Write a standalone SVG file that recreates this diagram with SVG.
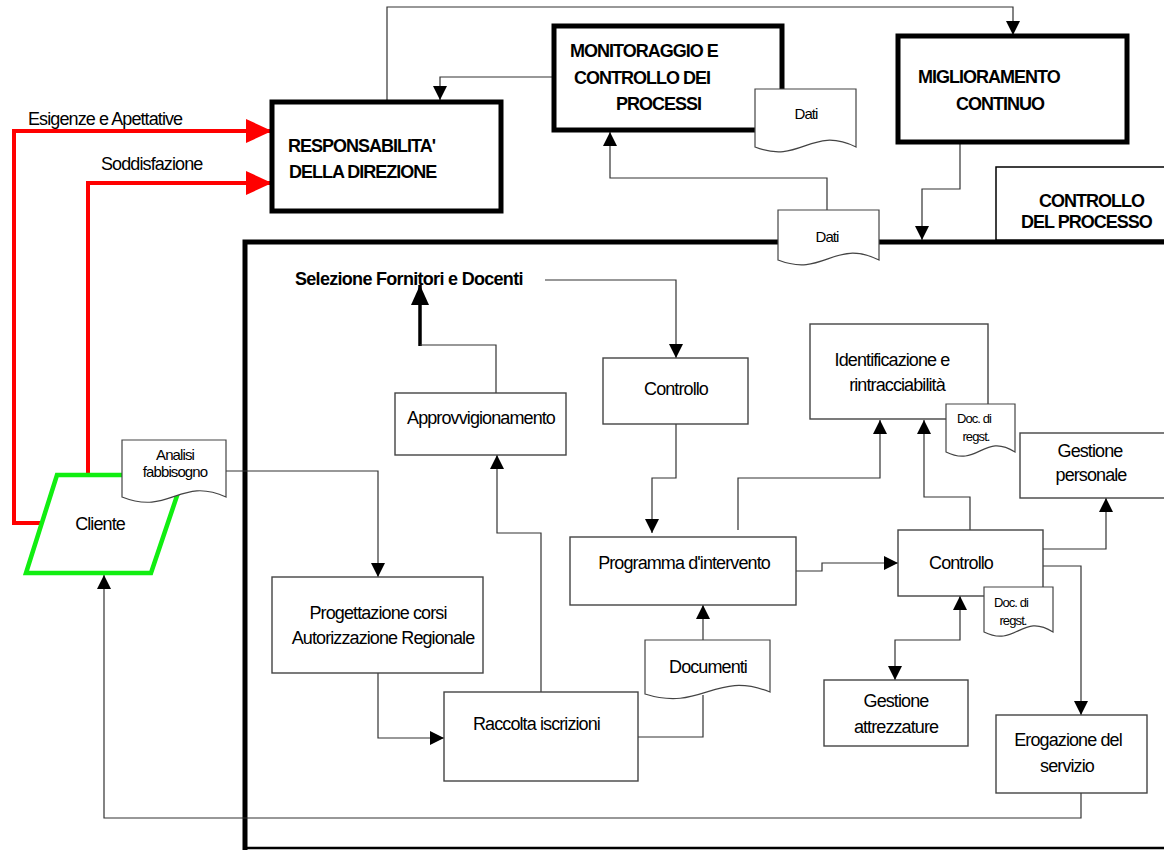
<svg xmlns="http://www.w3.org/2000/svg" width="1164" height="850" viewBox="0 0 1164 850">
<style>
text{font-family:"Liberation Sans",Arial,sans-serif;fill:#000}
.t{font-size:18px;letter-spacing:-0.9px}
.b{font-size:18px;font-weight:bold;letter-spacing:-1px}
.s{font-size:15px;letter-spacing:-0.9px}
.xs{font-size:13px;letter-spacing:-0.9px}
.m{text-anchor:middle}
.box{fill:#fff;stroke:#444;stroke-width:1.4}
.big{fill:#fff;stroke:#000;stroke-width:5}
.doc{fill:#fff;stroke:#444;stroke-width:1.2}
.c{fill:none;stroke:#333;stroke-width:1.2}
.red{fill:none;stroke:#ff0000;stroke-width:4}
</style>
<defs>
<marker id="a" markerUnits="userSpaceOnUse" markerWidth="14" markerHeight="14" viewBox="0 0 14 14" refX="14" refY="7" orient="auto-start-reverse"><path d="M0,0 L14,7 L0,14 Z" fill="#000"/></marker>
<marker id="ar" markerUnits="userSpaceOnUse" markerWidth="26" markerHeight="24" viewBox="0 0 26 24" refX="26" refY="12" orient="auto"><path d="M0,0 L26,12 L0,24 Z" fill="#ff0000"/></marker>
<marker id="ab" markerUnits="userSpaceOnUse" markerWidth="20" markerHeight="18" viewBox="0 0 20 18" refX="20" refY="9" orient="auto"><path d="M0,0 L20,9 L0,18 Z" fill="#000"/></marker>
</defs>

<g id="frame">
<path d="M245,850 V242 H1164" fill="none" stroke="#000" stroke-width="5"/>
<path d="M245,848 H1164" fill="none" stroke="#000" stroke-width="2.5"/>
</g>

<g id="connectors">
<path class="c" d="M387,100 V7 H1013 V35" marker-end="url(#a)"/>
<path class="c" d="M553,77 H440 V100" marker-end="url(#a)"/>
<path class="c" d="M960,142 V189 H922 V240" marker-end="url(#a)"/>
<path class="c" d="M827,210 V178 H610 V132" marker-end="url(#a)"/>
<path class="red" d="M40,523 H14 V131 H272" marker-end="url(#ar)"/>
<path class="red" d="M88,475 V183 H272" marker-end="url(#ar)"/>
<path class="c" d="M226,471 H378 V577" marker-end="url(#a)"/>
<path fill="none" stroke="#000" stroke-width="3.5" d="M420,346 V285" marker-end="url(#ab)"/>
<path class="c" d="M496,393 V345 H420"/>
<path class="c" d="M545,280 H676 V358" marker-end="url(#a)"/>
<path class="c" d="M541,692 V533 H497 V455" marker-end="url(#a)"/>
<path class="c" d="M378,673 V738 H444" marker-end="url(#a)"/>
<path class="c" d="M638,737 H703 V695"/>
<path class="c" d="M703,640 V605" marker-end="url(#a)"/>
<path class="c" d="M676,424 V478 H652 V533" marker-end="url(#a)"/>
<path class="c" d="M738,530 V478 H880 V420" marker-end="url(#a)"/>
<path class="c" d="M796,571 H822 V563 H898" marker-end="url(#a)"/>
<path class="c" d="M970,530 V497 H924 V420" marker-end="url(#a)"/>
<path class="c" d="M1043,549 H1106 V498" marker-end="url(#a)"/>
<path class="c" d="M1043,566 H1081 V715" marker-end="url(#a)"/>
<path class="c" d="M1081,793 V818 H104 V575" marker-end="url(#a)"/>
<path class="c" d="M895,680 V640 H960 V596" marker-start="url(#a)" marker-end="url(#a)"/>
</g>

<g id="responsabilita">
<rect class="big" x="272" y="102" width="229" height="109"/>
<text class="b" x="288" y="152">RESPONSABILITA'</text>
<text class="b" x="289" y="178">DELLA DIREZIONE</text>
</g>

<g id="monitoraggio">
<rect class="big" x="554" y="26" width="228" height="104"/>
<text class="b" x="570" y="57">MONITORAGGIO E</text>
<text class="b" x="574" y="84">CONTROLLO DEI</text>
<text class="b" x="616" y="110">PROCESSI</text>
</g>

<g id="dati-top">
<path class="doc" d="M755,89 H856 V147 C811,125 801,165 755,147 Z"/>
<text class="s m" x="806" y="119">Dati</text>
</g>

<g id="miglioramento">
<rect class="big" x="898" y="36" width="229" height="106"/>
<text class="b" x="918" y="83">MIGLIORAMENTO</text>
<text class="b" x="956" y="110">CONTINUO</text>
</g>

<g id="controllo-processo">
<rect x="996" y="167" width="172" height="73" fill="#fff" stroke="#000" stroke-width="1.5"/>
<text class="b" x="1039" y="207">CONTROLLO</text>
<text class="b" x="1021" y="228">DEL PROCESSO</text>
</g>

<g id="dati-lower">
<path class="doc" d="M778,210 H879 V260 C834,238 824,278 778,260 Z"/>
<text class="s m" x="827" y="242">Dati</text>
</g>

<g id="labels">
<text class="t" x="28" y="125">Esigenze e Apettative</text>
<text class="t" x="101" y="170">Soddisfazione</text>
</g>

<g id="cliente">
<polygon points="57,475 184,475 151,573 26,573" fill="#fff" stroke="#11ee11" stroke-width="4.5"/>
<text class="t m" x="100" y="530">Cliente</text>
</g>

<g id="analisi">
<path class="doc" d="M122,440 H226 V497 C180,476 170,516 122,497 Z"/>
<text class="s m" x="175" y="460">Analisi</text>
<text class="s m" x="175" y="477">fabbisogno</text>
</g>

<g id="selezione">
<text class="b" x="295" y="285" style="letter-spacing:-0.7px">Selezione Fornitori e Docenti</text>
</g>

<g id="approvvigionamento">
<rect class="box" x="395" y="393" width="171" height="62"/>
<text class="t m" x="481" y="424">Approvvigionamento</text>
</g>

<g id="controllo1">
<rect class="box" x="603" y="358" width="145" height="66"/>
<text class="t m" x="676" y="395">Controllo</text>
</g>

<g id="identificazione">
<rect class="box" x="810" y="324" width="178" height="95"/>
<text class="t m" x="892" y="366">Identificazione e</text>
<text class="t m" x="897" y="391">rintracciabilità</text>
</g>

<g id="doc-regst1">
<path class="doc" d="M946,404 H1015 V452 C984,432 978,468 946,452 Z"/>
<text class="xs m" x="974" y="423">Doc. di</text>
<text class="xs m" x="976" y="441">regst.</text>
</g>

<g id="gestione-personale">
<rect class="box" x="1020" y="433" width="150" height="65"/>
<text class="t m" x="1090" y="457">Gestione</text>
<text class="t m" x="1091" y="481">personale</text>
</g>

<g id="programma">
<rect class="box" x="570" y="537" width="226" height="68"/>
<text class="t m" x="684" y="569">Programma d'intervento</text>
</g>

<g id="controllo2">
<rect class="box" x="898" y="530" width="145" height="66"/>
<text class="t m" x="961" y="569">Controllo</text>
</g>

<g id="doc-regst2">
<path class="doc" d="M984,587 H1053 V632 C1022,612 1016,648 984,632 Z"/>
<text class="xs m" x="1011" y="607">Doc. di</text>
<text class="xs m" x="1013" y="625">regst.</text>
</g>

<g id="progettazione">
<rect class="box" x="272" y="577" width="211" height="96"/>
<text class="t m" x="378" y="619">Progettazione corsi</text>
<text class="t m" x="383" y="644">Autorizzazione Regionale</text>
</g>

<g id="raccolta">
<rect class="box" x="444" y="692" width="194" height="89"/>
<text class="t" x="473" y="730">Raccolta iscrizioni</text>
</g>

<g id="documenti">
<path class="doc" d="M645,640 H770 V692 C715,670 702,712 645,694 Z"/>
<text class="t m" x="708" y="673">Documenti</text>
</g>

<g id="gestione-attrezzature">
<rect class="box" x="824" y="680" width="144" height="66"/>
<text class="t m" x="896" y="707">Gestione</text>
<text class="t m" x="896" y="733">attrezzature</text>
</g>

<g id="erogazione">
<rect class="box" x="996" y="715" width="151" height="78"/>
<text class="t m" x="1068" y="746">Erogazione del</text>
<text class="t m" x="1067" y="772">servizio</text>
</g>
</svg>
